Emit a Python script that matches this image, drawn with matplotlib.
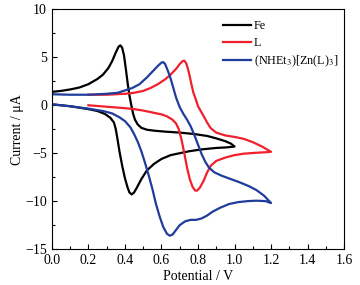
import matplotlib
matplotlib.use('Agg')
from matplotlib import pyplot as plt
from matplotlib.ticker import MultipleLocator

plt.rcParams['font.family'] = ['Liberation Serif', 'DejaVu Serif']
plt.rcParams['mathtext.fontset'] = 'stix'

# Fe
fe_v = [0, 0.05, 0.1, 0.15, 0.2, 0.25, 0.28, 0.31, 0.33, 0.35, 0.365, 0.375, 0.385, 0.395, 0.405, 0.415,
        0.425, 0.435, 0.445, 0.455, 0.47, 0.49, 0.52, 0.56, 0.62, 0.7, 0.78, 0.85, 0.9, 0.95, 0.98, 1.0,
        0.98, 0.95, 0.9, 0.82, 0.75, 0.7, 0.65, 0.6, 0.56, 0.52, 0.49, 0.465, 0.45, 0.437, 0.425, 0.415,
        0.40, 0.385, 0.37, 0.36, 0.35, 0.34, 0.32, 0.29, 0.25, 0.2, 0.15, 0.1, 0.05, 0]
fe_i = [1.4, 1.5, 1.65, 1.85, 2.2, 2.75, 3.2, 3.9, 4.6, 5.5, 6.1, 6.25, 6.0, 5.2, 3.8, 2.3,
        1.0, 0.0, -0.9, -1.5, -2.0, -2.35, -2.55, -2.65, -2.75, -2.85, -3.0, -3.2, -3.45, -3.75, -4.0, -4.3,
        -4.35, -4.4, -4.45, -4.6, -4.8, -5.0, -5.2, -5.6, -6.1, -6.8, -7.7, -8.6, -9.1, -9.3, -9.1, -8.6,
        -7.6, -6.3, -4.8, -3.6, -2.5, -1.8, -1.3, -0.9, -0.6, -0.4, -0.25, -0.1, 0.0, 0.1]

# L
l_v = [0.2, 0.3, 0.4, 0.45, 0.5, 0.54, 0.58, 0.62, 0.65, 0.68, 0.70, 0.715, 0.725, 0.735, 0.745, 0.755,
       0.765, 0.775, 0.79, 0.80, 0.815, 0.83, 0.85, 0.87, 0.9, 0.95, 1.0, 1.05, 1.1, 1.15, 1.2,
       1.17, 1.12, 1.05, 1.0, 0.95, 0.9, 0.87, 0.85, 0.83, 0.81, 0.795, 0.785, 0.77, 0.755, 0.74,
       0.725, 0.71, 0.695, 0.68, 0.66, 0.63, 0.6, 0.55, 0.5, 0.45, 0.4, 0.3, 0.2]
l_i = [1.1, 1.1, 1.2, 1.3, 1.5, 1.8, 2.2, 2.7, 3.2, 3.8, 4.3, 4.6, 4.65, 4.4, 3.8, 3.0,
       2.1, 1.3, 0.5, -0.1, -0.6, -1.1, -1.8, -2.4, -2.85, -3.15, -3.3, -3.5, -3.85, -4.3, -4.85,
       -4.9, -4.95, -5.05, -5.2, -5.45, -5.8, -6.3, -7.0, -7.9, -8.6, -8.9, -8.9, -8.5, -7.7, -6.5,
       -5.0, -3.6, -2.5, -1.9, -1.5, -1.15, -0.95, -0.75, -0.55, -0.4, -0.3, -0.15, 0.0]

# (NHEt3)[Zn(L)3]
zn_v = [0, 0.1, 0.2, 0.3, 0.36, 0.4, 0.44, 0.48, 0.52, 0.55, 0.58, 0.60, 0.61, 0.62, 0.635, 0.65,
        0.665, 0.68, 0.70, 0.72, 0.74, 0.76, 0.78, 0.80, 0.82, 0.84, 0.86, 0.89, 0.93, 0.98, 1.03,
        1.08, 1.12, 1.16, 1.2,
        1.17, 1.12, 1.07, 1.02, 0.97, 0.92, 0.88, 0.85, 0.82, 0.79, 0.76, 0.73, 0.70, 0.68, 0.66,
        0.645, 0.63, 0.61, 0.59, 0.57, 0.55, 0.53, 0.51, 0.49, 0.47, 0.45, 0.43, 0.40, 0.37, 0.33,
        0.28, 0.2, 0.1, 0]
zn_i = [1.15, 1.1, 1.1, 1.2, 1.3, 1.55, 1.8, 2.2, 2.9, 3.5, 4.1, 4.45, 4.5, 4.3, 3.6, 2.8,
        1.8, 0.8, -0.2, -0.9, -1.5, -2.2, -3.1, -4.1, -5.1, -5.9, -6.5, -7.0, -7.35, -7.7, -8.05,
        -8.45, -8.85, -9.4, -10.2,
        -10.0, -9.95, -10.0, -10.1, -10.3, -10.7, -11.1, -11.5, -11.8, -11.95, -11.95, -12.1, -12.5, -13.0, -13.5,
        -13.6, -13.4, -12.7, -11.6, -10.3, -8.7, -7.3, -6.0, -4.8, -3.8, -3.0, -2.3, -1.65, -1.25, -0.85,
        -0.6, -0.35, -0.1, 0.1]

fig = plt.figure(figsize=(3.6, 2.85), dpi=100)
ax = fig.add_axes([0.144, 0.126, 0.812, 0.841])

ax.plot(fe_v, fe_i, color='black', lw=1.6, label='Fe')
ax.plot(l_v, l_i, color='#f0202c', lw=1.6, label='L')
ax.plot(zn_v, zn_i, color='#1f3c9c', lw=1.6, label='(NHEt$_3$)[Zn(L)$_3$]')

ax.set_xlim(0, 1.6)
ax.set_ylim(-15, 10)
ax.xaxis.set_major_locator(MultipleLocator(0.2))
ax.xaxis.set_minor_locator(MultipleLocator(0.1))
ax.yaxis.set_major_locator(MultipleLocator(5))
ax.yaxis.set_minor_locator(MultipleLocator(2.5))
ax.xaxis.set_major_formatter(plt.FuncFormatter(lambda v, p: '%.1f' % v))
ax.yaxis.set_major_formatter(plt.FuncFormatter(lambda v, p: ('\u2212%d' % -v) if v < 0 else '%d' % v))
ax.tick_params(which='both', direction='in', labelsize=10, width=0.8)
ax.tick_params(which='major', length=3.5)
ax.tick_params(which='minor', length=2)
for s in ax.spines.values():
    s.set_linewidth(0.8)

ax.set_xlabel('Potential / V', fontsize=10, labelpad=2)
ax.set_ylabel('Current / \u03bcA', fontsize=10, labelpad=1)

ax.legend(loc='upper right', frameon=False, fontsize=8.7, handlelength=2.3,
          handletextpad=0.2, labelspacing=0.42, borderaxespad=0.1,
          bbox_to_anchor=(1.0, 0.982))

fig.savefig('out.png', dpi=100)
